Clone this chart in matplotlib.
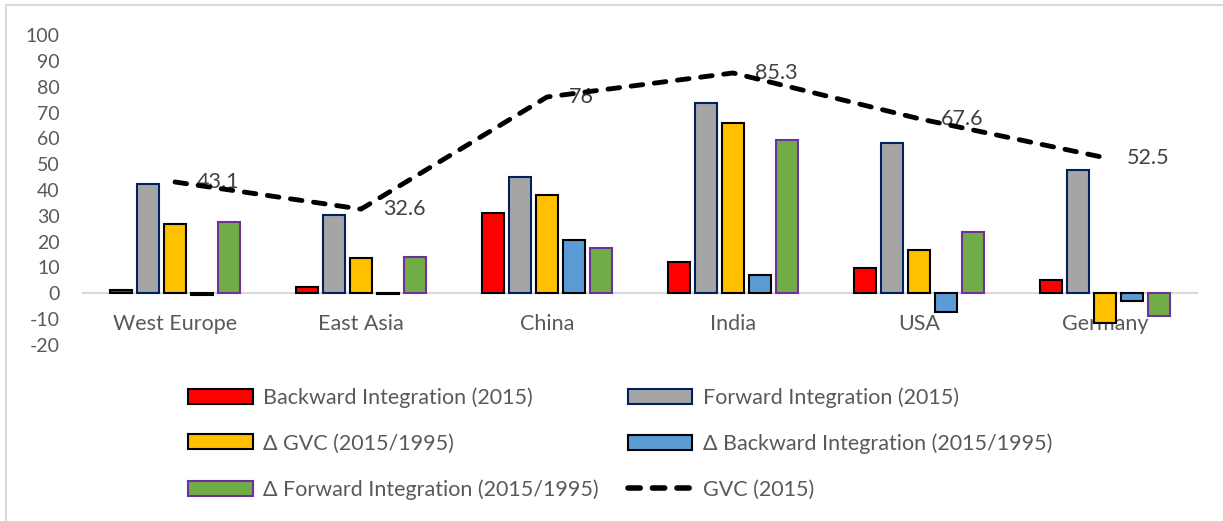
import matplotlib
matplotlib.use("Agg")
import matplotlib.pyplot as plt
from matplotlib.patches import Patch
from matplotlib.lines import Line2D
import numpy as np

plt.rcParams['font.family'] = ['Lato', 'DejaVu Sans']

regions = ["West Europe", "East Asia", "China", "India", "USA", "Germany"]
backward_2015 = [1.2, 2.5, 31.1, 12.0, 9.8, 5.0]
forward_2015 = [42.3, 30.2, 45.0, 73.5, 58.0, 47.8]
d_gvc = [27.0, 13.6, 38.1, 65.9, 16.7, -11.6]
d_backward = [-0.5, -0.3, 20.5, 7.0, -7.2, -3.0]
d_forward = [27.5, 14.0, 17.6, 59.2, 23.8, -8.9]
gvc_2015 = [43.1, 32.6, 76, 85.3, 67.6, 52.5]
yticks = list(range(-20, 101, 10))

series = [
    ("Backward Integration (2015)", backward_2015, "#FF0000", "#000000"),
    ("Forward Integration (2015)", forward_2015, "#A5A5A5", "#002060"),
    ("\u0394 GVC (2015/1995)", d_gvc, "#FFC000", "#000000"),
    ("\u0394 Backward Integration (2015/1995)", d_backward, "#5B9BD5", "#000000"),
    ("\u0394 Forward Integration (2015/1995)", d_forward, "#70AD47", "#7030A0"),
]

W, H = 1223, 521
fig = plt.figure(figsize=(W / 100, H / 100), dpi=100)

# chart frame (left and top edges)
fig.add_artist(Line2D([6 / W, 6 / W], [0, 1 - 5 / H], color="#D9D9D9", lw=1.5))
fig.add_artist(Line2D([6 / W, 1], [1 - 5 / H, 1 - 5 / H], color="#D9D9D9", lw=1.5))

left, right = 82, 1198
top, bottom = 35, 345
ax = fig.add_axes([left / W, 1 - bottom / H, (right - left) / W, (bottom - top) / H])
ax.set_xlim(-0.5, len(regions) - 0.5)
ax.set_ylim(-20, 100)

x = np.arange(len(regions))
pitch = 0.145
width = 0.118
for i, (name, vals, fc, ec) in enumerate(series):
    ax.bar(x + (i - 2) * pitch, vals, width, color=fc, edgecolor=ec,
           linewidth=1.5, zorder=3, label=name)

ax.axhline(0, color="#D9D9D9", lw=1.5, zorder=2)

gvc_dashes = [2.4, 2.4]
line, = ax.plot(x, gvc_2015, color="black", lw=3.5, dash_capstyle="round",
                zorder=5, label="GVC (2015)")
line.set_dashes(gvc_dashes)

for xi, v in zip(x, gvc_2015):
    ax.annotate(f"{v:g}", (xi, v), xytext=(16, 0), textcoords="offset points",
                ha="left", va="center", fontsize=15.5, color="#404040", zorder=4)

for xi, name in zip(x, regions):
    ax.text(xi, -12, name, ha="center", va="center", fontsize=15.5,
            color="#595959", zorder=1)

ax.set_yticks(yticks)
ax.set_yticklabels([str(t) for t in yticks], fontsize=14, color="#595959")
ax.tick_params(axis="y", length=0, pad=16)
ax.set_xticks([])
for s in ax.spines.values():
    s.set_visible(False)

handles = [Patch(facecolor=fc, edgecolor=ec, linewidth=1.5, label=name)
           for name, _, fc, ec in series]
leg_line = Line2D([0], [0], color="black", lw=4, dash_capstyle="round",
                  label="GVC (2015)")
leg_line.set_dashes([2.2, 2.2])
handles.append(leg_line)
order = [0, 2, 4, 1, 3, 5]
fs = 15.5
leg = fig.legend([handles[i] for i in order], [handles[i].get_label() for i in order],
                 ncol=2, loc="upper left", bbox_to_anchor=(188 / W, 1 - 387 / H),
                 frameon=False, fontsize=fs, handlelength=3.0, handleheight=0.7,
                 handletextpad=0.5, columnspacing=1.33, labelspacing=1.2,
                 borderpad=0, borderaxespad=0)
for t in leg.get_texts():
    t.set_color("#595959")

fig.savefig("out.png", dpi=100)
